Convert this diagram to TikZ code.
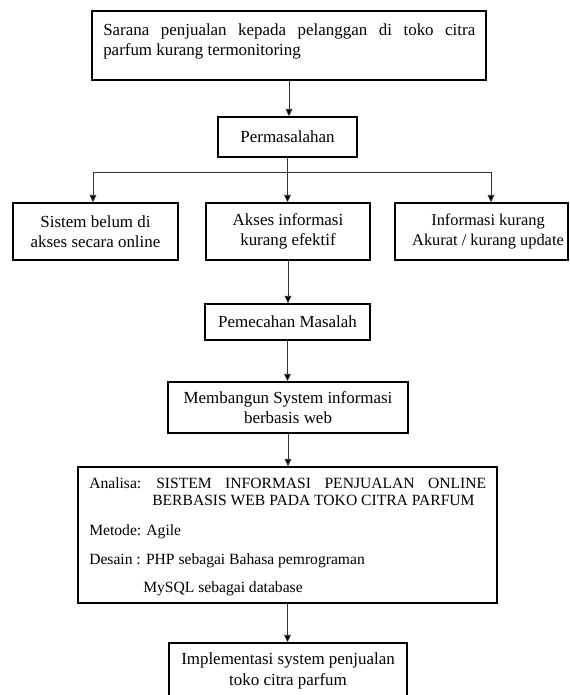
\documentclass[tikz,border=0pt]{standalone}
\usepackage{fontspec}
\setmainfont{Liberation Serif}
\usetikzlibrary{arrows.meta}
\newcommand{\diagfont}{\fontsize{12.7pt}{15.4pt}\selectfont}
\newcommand{\planfont}{\fontsize{11.7pt}{14pt}\selectfont}
\begin{document}
\begin{tikzpicture}[x=0.75pt,y=-0.75pt,
  box/.style={draw=black,line width=1.1pt,inner sep=0pt,align=center,font=\diagfont},
  txt/.style={inner sep=0pt,font=\diagfont},
  plantxt/.style={inner sep=0pt,font=\planfont,anchor=base west},
  wire/.style={draw=black!80,line width=0.6pt},
  arr/.style={wire,-{Triangle[length=5.5pt,width=5pt,fill=black]}}
]
\useasboundingbox (0,0) rectangle (569,695);
\clip (0,0) rectangle (569,695);

% problem statement
\node[box,minimum width=295.5pt,minimum height=51.75pt] (box1) at (289,45.5) {};
\node[txt,anchor=base west] (t1a) at (103,36)
  {\makebox[279pt][s]{Sarana penjualan kepada pelanggan di toko citra}};
\node[txt,anchor=base west] (t1b) at (103,56) {parfum kurang termonitoring};

\node[box,minimum width=104.25pt,minimum height=30pt] (perm) at (287.5,137) {Permasalahan};

% the three problems
\node[box,minimum width=123.75pt,minimum height=42.75pt] (pa) at (95.5,231.5)
  {Sistem belum di\\akses secara online};
\node[box,minimum width=123pt,minimum height=42.75pt] (pb) at (288,231.5)
  {Akses informasi\\kurang efektif};
\node[box,minimum width=129.75pt,minimum height=42.75pt] (pc) at (481.5,231.5) {};
\node[txt,align=center,font=\fontsize{12.3pt}{15.4pt}\selectfont] (pctext) at (488,231.5)
  {Informasi kurang\\Akurat / kurang update};

\node[box,minimum width=123.75pt,minimum height=27pt] (solve) at (287.5,322) {Pemecahan Masalah};
\node[box,minimum width=180pt,minimum height=38.25pt] (build) at (288,407.5)
  {Membangun System informasi\\berbasis web};

% analysis / method / design
\node[box,minimum width=314.25pt,minimum height=102pt] (plan) at (287.5,535) {};
\node[plantxt] (ana) at (89,488) {Analisa:};
\node[plantxt] (ana1) at (156,488)
  {\makebox[247.5pt][s]{SISTEM INFORMASI PENJUALAN ONLINE}};
\node[plantxt] (ana2) at (152,505) {BERBASIS WEB PADA TOKO CITRA PARFUM};
\node[plantxt] (met) at (89,535) {Metode: Agile};
\node[plantxt] (des1) at (89,564) {Desain : PHP sebagai Bahasa pemrograman};
\node[plantxt] (des2) at (143,592) {MySQL sebagai database};

\node[box,minimum width=178.5pt,minimum height=42pt] (impl) at (288,671)
  {Implementasi system penjualan\\toko citra parfum};

% connectors
\coordinate (forkl) at (93,172);
\coordinate (forkr) at (491,172);
\draw[arr] (box1.south) -- (box1.south |- perm.north);
\draw[wire] (perm.south) -- (perm.south |- forkl);
\draw[wire] (forkl) -- (forkr);
\draw[arr] (forkl) -- (forkl |- pa.north);
\draw[arr] (perm.south |- forkl) -- (perm.south |- pb.north);
\draw[arr] (forkr) -- (forkr |- pc.north);
\draw[arr] (pb.south) -- (pb.south |- solve.north);
\draw[arr] (solve.south) -- (solve.south |- build.north);
\draw[arr] (build.south) -- (build.south |- plan.north);
\draw[arr] (plan.south) -- (plan.south |- impl.north);
\end{tikzpicture}
\end{document}
